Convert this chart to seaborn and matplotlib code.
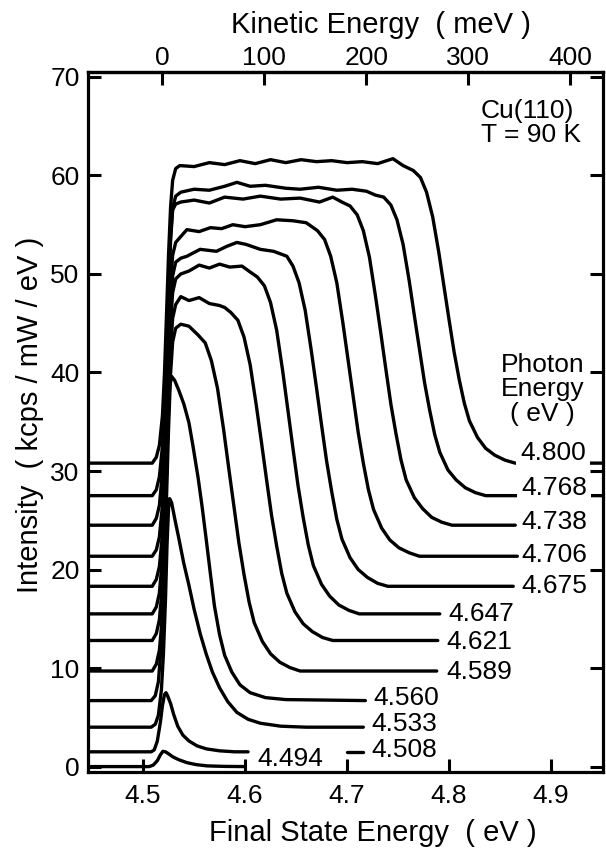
import numpy as np
import pandas as pd
import matplotlib
matplotlib.use("Agg")
import matplotlib.pyplot as plt
import seaborn as sns

# Cu(110) two-photon photoemission spectra, offset per photon energy
# values (final state energy in eV, intensity)

e_4494 = [4.446, 4.506, 4.510, 4.514, 4.517, 4.5195, 4.522, 4.525, 4.529, 4.535, 4.543, 4.552, 4.563, 4.580, 4.600]
i_4494 = [0.0, 0.0, 0.15, 0.6, 1.2, 1.55, 1.5, 1.3, 1.0, 0.7, 0.4, 0.2, 0.07, 0.02, 0.0]

e_4508 = [4.446, 4.508, 4.511, 4.514, 4.517, 4.519, 4.521, 4.5225, 4.524, 4.527, 4.530, 4.534, 4.539,
          4.545, 4.553, 4.562, 4.575, 4.590, 4.603]
i_4508 = [1.5, 1.5, 1.7, 2.6, 4.5, 6.2, 7.3, 7.5, 7.2, 6.4, 5.3, 4.1, 3.2, 2.6, 2.1, 1.8, 1.6, 1.5, 1.5]
# short piece of the 4.508 trace visible after the 4.494 label
e_4508_tail = [4.700, 4.716]
i_4508_tail = [1.5, 1.5]

e_4533 = [4.446, 4.508, 4.512, 4.515, 4.518, 4.520, 4.522, 4.5235, 4.525, 4.526, 4.528, 4.531, 4.535, 4.540,
          4.545, 4.550, 4.556, 4.562, 4.568, 4.575, 4.583, 4.592, 4.603, 4.615, 4.635, 4.660, 4.716]
i_4533 = [4.0, 4.0, 4.3, 5.2, 7.8, 11.5, 17.0, 22.5, 26.2, 27.2, 26.8, 25.2, 23.2, 20.6,
          18.4, 16.0, 13.5, 11.4, 9.6, 8.0, 6.6, 5.5, 4.8, 4.4, 4.1, 4.0, 4.0]

e_4560 = [4.446, 4.508, 4.512, 4.515, 4.518, 4.520, 4.522, 4.524, 4.526, 4.528, 4.531, 4.535, 4.540, 4.545,
          4.549, 4.554, 4.558, 4.562, 4.566, 4.570, 4.575, 4.580, 4.587, 4.595, 4.605, 4.620, 4.640, 4.718]
i_4560 = [6.7, 6.7, 7.2, 8.6, 12.5, 18.0, 25.5, 33.5, 38.5, 39.6, 39.2, 38.2, 36.8, 34.9,
          32.5, 29.3, 26.3, 23.0, 19.6, 16.3, 13.4, 11.3, 9.6, 8.3, 7.5, 7.0, 6.8, 6.7]

e_4589 = [4.446, 4.509, 4.513, 4.516, 4.519, 4.521, 4.523, 4.525, 4.527, 4.529, 4.532, 4.537, 4.545, 4.554,
          4.561, 4.567, 4.573, 4.579, 4.584, 4.589, 4.594, 4.599, 4.604, 4.609, 4.617, 4.625, 4.634, 4.644,
          4.654, 4.788]
i_4589 = [9.7, 9.7, 10.4, 11.8, 15.3, 20.3, 27.3, 34.3, 39.9, 43.1, 44.5, 44.9, 44.7, 43.8,
          43.0, 41.2, 38.4, 34.2, 30.3, 26.5, 22.7, 19.5, 16.7, 14.6, 12.7, 11.45, 10.6, 10.05,
          9.7, 9.7]

e_4621 = [4.446, 4.509, 4.513, 4.516, 4.519, 4.521, 4.523, 4.525, 4.527, 4.529, 4.532, 4.537, 4.545, 4.555,
          4.565, 4.575, 4.580, 4.586, 4.593, 4.599, 4.605, 4.611, 4.616, 4.621, 4.626, 4.631, 4.636, 4.641,
          4.649, 4.657, 4.666, 4.676, 4.686, 4.789]
i_4621 = [12.8, 12.8, 13.5, 14.9, 18.4, 23.1, 30.0, 36.8, 42.4, 45.5, 46.9, 47.7, 47.3, 47.6,
          47.0, 46.8, 46.6, 46.1, 45.3, 43.6, 40.8, 36.7, 33.0, 29.2, 25.5, 22.4, 19.6, 17.6,
          15.7, 14.5, 13.7, 13.1, 12.8, 12.8]

e_4647 = [4.446, 4.509, 4.513, 4.516, 4.519, 4.521, 4.523, 4.525, 4.527, 4.529, 4.532, 4.537, 4.545, 4.555,
          4.565, 4.575, 4.585, 4.597, 4.605, 4.612, 4.619, 4.625, 4.631, 4.637, 4.642, 4.647, 4.652, 4.657,
          4.662, 4.667, 4.675, 4.683, 4.692, 4.702, 4.712, 4.791]
i_4647 = [15.5, 15.5, 16.2, 17.6, 21.2, 26.0, 32.7, 39.5, 45.0, 48.1, 49.5, 50.0, 50.3, 50.9,
          50.6, 51.0, 50.7, 50.8, 50.2, 49.7, 48.8, 47.1, 44.3, 40.1, 36.2, 32.3, 28.5, 25.3,
          22.5, 20.4, 18.5, 17.3, 16.4, 15.85, 15.5, 15.5]

e_4675 = [4.446, 4.509, 4.513, 4.516, 4.519, 4.521, 4.523, 4.525, 4.527, 4.529, 4.532, 4.537, 4.543, 4.556,
          4.572, 4.582, 4.592, 4.601, 4.615, 4.628, 4.641, 4.647, 4.653, 4.659, 4.665, 4.670, 4.675, 4.680,
          4.685, 4.690, 4.695, 4.703, 4.711, 4.720, 4.730, 4.740, 4.863]
i_4675 = [18.3, 18.3, 19.0, 20.3, 23.6, 28.3, 34.9, 41.5, 46.9, 49.8, 51.2, 51.6, 51.8, 52.5,
          52.3, 52.8, 53.2, 53.0, 52.5, 52.3, 51.8, 50.8, 49.1, 46.3, 42.2, 38.5, 34.7, 31.0,
          27.9, 25.1, 23.1, 21.2, 20.0, 19.2, 18.6, 18.3, 18.3]

e_4706 = [4.446, 4.509, 4.513, 4.516, 4.519, 4.521, 4.523, 4.525, 4.527, 4.529, 4.532, 4.537, 4.543, 4.555,
          4.566, 4.577, 4.588, 4.600, 4.615, 4.631, 4.647, 4.660, 4.671, 4.678, 4.684, 4.690, 4.696, 4.701,
          4.706, 4.711, 4.716, 4.721, 4.726, 4.734, 4.742, 4.751, 4.761, 4.771, 4.867]
i_4706 = [21.35, 21.35, 22.0, 23.3, 26.5, 31.0, 37.4, 43.9, 49.0, 51.9, 53.2, 53.8, 54.5, 54.3,
          54.7, 54.6, 55.0, 54.8, 55.0, 55.5, 55.4, 55.2, 54.4, 53.5, 51.8, 49.1, 45.0, 41.3,
          37.6, 33.9, 30.8, 28.1, 26.1, 24.2, 23.0, 22.2, 21.7, 21.35, 21.35]

e_4738 = [4.446, 4.509, 4.513, 4.516, 4.519, 4.521, 4.523, 4.525, 4.527, 4.529, 4.532, 4.537, 4.550, 4.565,
          4.580, 4.598, 4.615, 4.635, 4.654, 4.673, 4.686, 4.695, 4.703, 4.710, 4.716, 4.722, 4.728, 4.733,
          4.738, 4.743, 4.748, 4.753, 4.758, 4.766, 4.774, 4.783, 4.793, 4.803, 4.865]
i_4738 = [24.5, 24.5, 25.2, 26.5, 29.9, 34.6, 40.9, 48.1, 53.4, 56.5, 57.1, 57.3, 57.5, 57.2,
          57.8, 57.6, 57.9, 57.6, 57.7, 57.3, 57.8, 57.3, 56.9, 56.0, 54.4, 51.7, 47.7, 44.1,
          40.4, 36.8, 33.8, 31.1, 29.1, 27.3, 26.2, 25.3, 24.8, 24.5, 24.5]

e_4768 = [4.446, 4.509, 4.513, 4.516, 4.519, 4.521, 4.523, 4.525, 4.527, 4.529, 4.532, 4.537, 4.550, 4.565,
          4.580, 4.592, 4.605, 4.620, 4.640, 4.654, 4.672, 4.690, 4.705, 4.719, 4.728, 4.736, 4.743, 4.749,
          4.755, 4.761, 4.766, 4.771, 4.776, 4.781, 4.786, 4.791, 4.799, 4.807, 4.816, 4.826, 4.836, 4.951]
i_4768 = [27.5, 27.5, 28.1, 29.4, 32.5, 36.7, 42.9, 49.0, 53.9, 56.7, 57.9, 58.3, 58.6, 58.5,
          58.9, 59.3, 58.9, 59.0, 58.7, 58.6, 58.8, 58.5, 58.6, 58.4, 58.0, 57.8, 57.0, 55.5,
          53.0, 49.3, 45.8, 42.4, 39.0, 36.2, 33.7, 31.9, 30.1, 29.1, 28.3, 27.8, 27.5, 27.5]

e_4800 = [4.446, 4.509, 4.513, 4.516, 4.519, 4.521, 4.523, 4.525, 4.527, 4.529, 4.532, 4.536, 4.550, 4.565,
          4.580, 4.595, 4.610, 4.625, 4.640, 4.655, 4.670, 4.685, 4.700, 4.715, 4.730, 4.745, 4.755, 4.765,
          4.772, 4.778, 4.784, 4.790, 4.795, 4.800, 4.805, 4.810, 4.815, 4.820, 4.828, 4.836, 4.845, 4.855,
          4.865, 4.951]
i_4800 = [30.8, 30.8, 31.4, 32.6, 35.6, 39.9, 45.9, 52.0, 56.8, 59.5, 60.7, 61.0, 60.9, 61.3,
          61.1, 61.5, 61.2, 61.6, 61.3, 61.6, 61.4, 61.5, 61.3, 61.4, 61.2, 61.7, 61.0, 60.5,
          59.8, 58.3, 55.8, 52.2, 48.8, 45.4, 42.1, 39.3, 36.9, 35.1, 33.4, 32.3, 31.6, 31.1,
          30.8, 30.8]

photon_labels = ["4.494", "4.508", "4.533", "4.560", "4.589", "4.621",
                 "4.647", "4.675", "4.706", "4.738", "4.768", "4.800"]
energies = [e_4494, e_4508, e_4533, e_4560, e_4589, e_4621,
            e_4647, e_4675, e_4706, e_4738, e_4768, e_4800]
intensities = [i_4494, i_4508, i_4533, i_4560, i_4589, i_4621,
               i_4647, i_4675, i_4706, i_4738, i_4768, i_4800]

kin_ticks = [0, 100, 200, 300, 400]
work_offset = 4.519  # final state energy at 0 meV kinetic energy

# label anchor (left edge, vertical centre) for each trace
label_x = [4.612, 4.724, 4.724, 4.726, 4.797, 4.797, 4.799, 4.871, 4.871, 4.871, 4.871, 4.870]
label_y = [0.8, 1.7, 4.3, 7.0, 9.6, 12.6, 15.5, 18.3, 21.5, 24.8, 28.3, 31.8]

frames = []
for lab, e, i in zip(photon_labels, energies, intensities):
    frames.append(pd.DataFrame({"energy": e, "intensity": i, "trace": lab}))
frames.append(pd.DataFrame({"energy": e_4508_tail, "intensity": i_4508_tail, "trace": "4.508 tail"}))
df = pd.concat(frames, ignore_index=True)

sns.set_style("ticks")
plt.rcParams["font.family"] = ["Liberation Sans", "DejaVu Sans"]
plt.rcParams["font.size"] = 19
for key in ["text.color", "axes.labelcolor", "axes.edgecolor", "xtick.color", "ytick.color"]:
    plt.rcParams[key] = "black"

fs_tick = 19
fs_label = 21

fig = plt.figure(figsize=(6.06, 8.51), dpi=100)
ax = fig.add_axes([0.1452, 0.0934, 0.8498, 0.822])

sns.lineplot(data=df, x="energy", y="intensity", units="trace", estimator=None,
             sort=False, color="black", lw=2.4, ax=ax, zorder=2)

ax.set_xlim(4.446, 4.951)
ax.set_ylim(-0.5, 70.5)
ax.set_xticks([4.5, 4.6, 4.7, 4.8, 4.9])
ax.set_yticks(np.arange(0, 71, 10))
ax.set_xlabel("")
ax.set_ylabel("")
for s in ax.spines.values():
    s.set_linewidth(2.3)
    s.set_zorder(5)
ax.tick_params(direction="in", length=9.4, width=2.2, top=False, right=True,
               labelsize=fs_tick)
ax.tick_params(axis="x", pad=9.0)
ax.tick_params(axis="y", pad=6)
ax.xaxis.set_zorder(5)
ax.yaxis.set_zorder(5)

sec = ax.secondary_xaxis("top", functions=(lambda e: (e - work_offset) * 1000,
                                           lambda k: k / 1000 + work_offset))
sec.set_xticks(kin_ticks)
sec.tick_params(direction="in", length=9.4, width=2.2, pad=1.5, labelsize=fs_tick)
sec.spines["top"].set_linewidth(2.3)

for lab, x, y in zip(photon_labels, label_x, label_y):
    box = None
    if lab in ("4.800", "4.768"):
        box = dict(facecolor="white", edgecolor="none", pad=3.0)
    ax.text(x, y, lab, ha="left", va="center", fontsize=fs_tick, bbox=box, zorder=3)

ax.text(4.892, 38.3, "Photon\nEnergy\n( eV )", ha="center", va="center",
        fontsize=fs_tick, linespacing=1.02)
ax.text(4.8314, 65.3, "Cu(110)\nT = 90 K", ha="left", va="center",
        fontsize=fs_tick, linespacing=1.02)

fig.text(373 / 606, 1 - 841 / 851, "Final State Energy  ( eV )", ha="center", va="baseline", fontsize=fs_label)
fig.text(381 / 606, 1 - 33 / 851, "Kinetic Energy  ( meV )", ha="center", va="baseline", fontsize=fs_label)
fig.text(30 / 606, 1 - 415 / 851, "Intensity  ( kcps / mW / eV )", rotation=90,
         ha="center", va="center", fontsize=fs_label)

fig.savefig("out.png", dpi=100)
